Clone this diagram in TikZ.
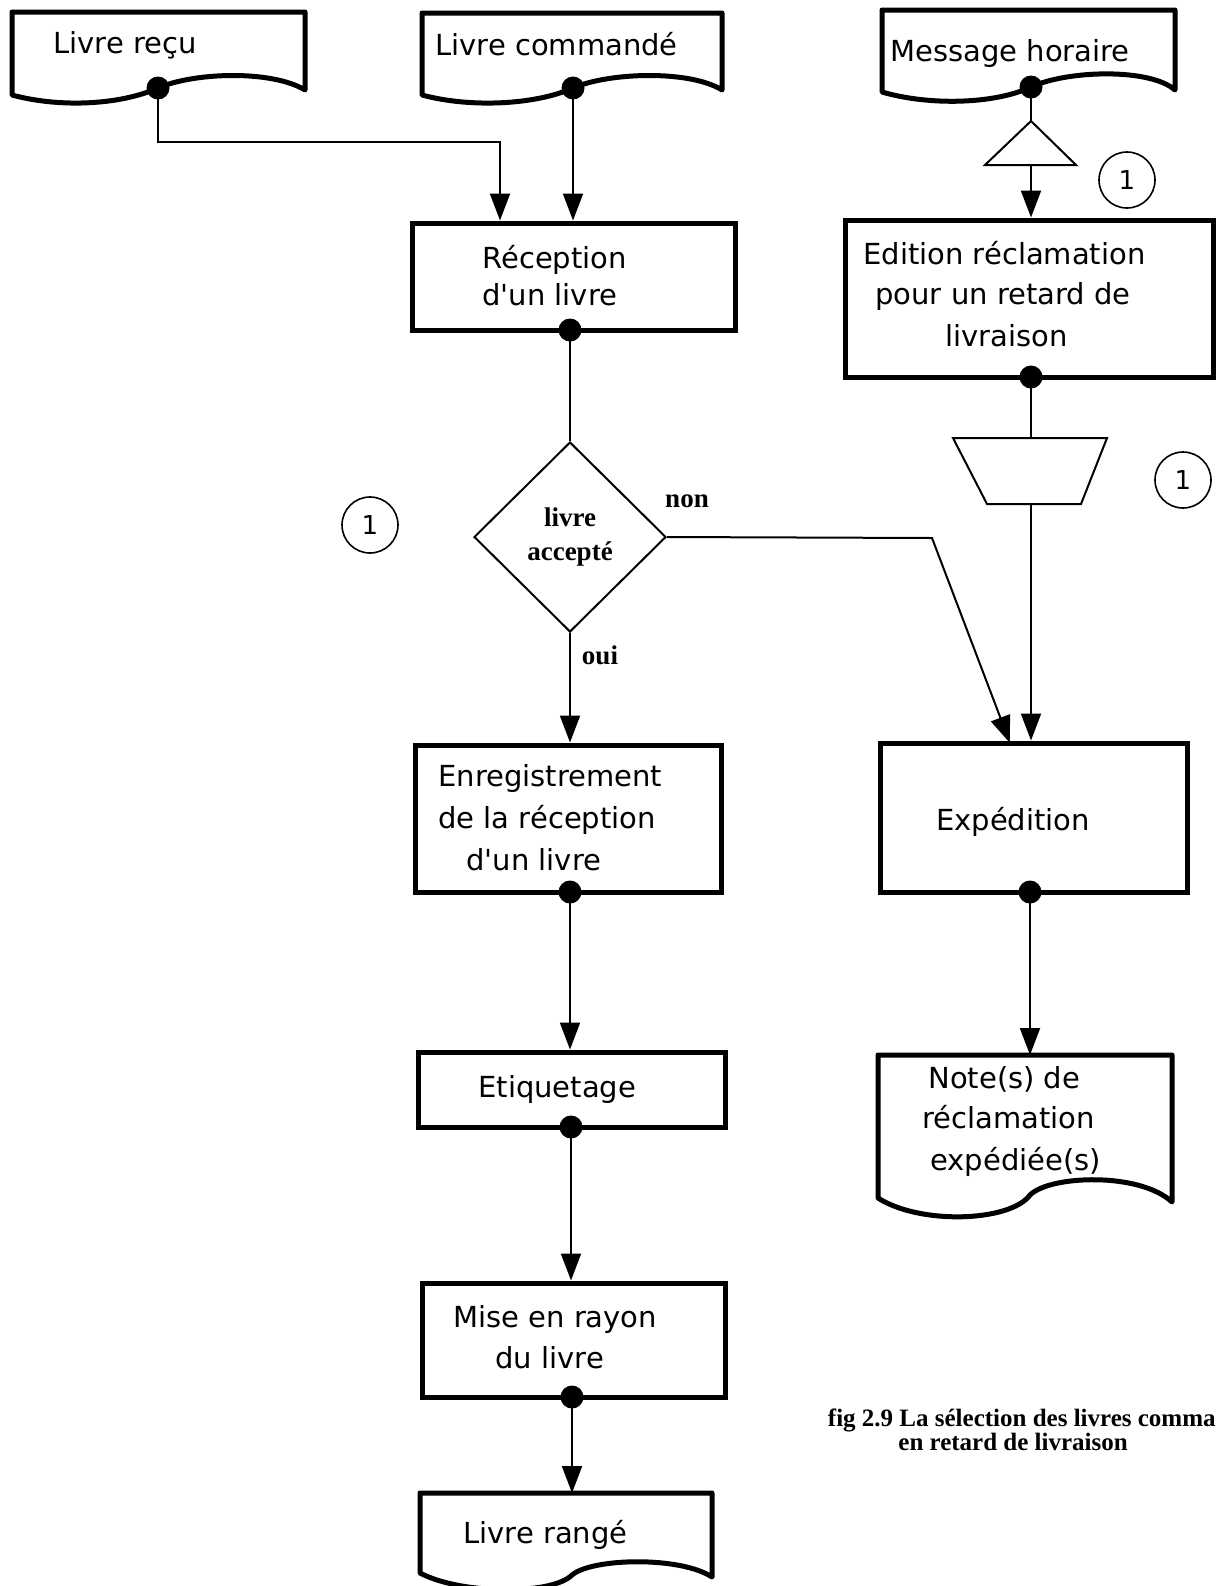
\documentclass[tikz,border=0pt]{standalone}
\usepackage{fontspec}
\setmainfont{DejaVu Sans}
\newfontfamily\capfont{Liberation Serif}
\usetikzlibrary{shapes.geometric,arrows.meta}
\newcommand{\apos}{\textquotesingle}
\begin{document}
\begin{tikzpicture}[x=0.5pt,y=-0.5pt,
  procbox/.style={draw, line width=2.5pt, inner sep=0pt},
  docline/.style={line width=2.5pt, line join=round},
  conn/.style={line width=1pt},
  arr/.style={conn, -{Triangle[length=13.5pt,width=10pt]}},
  blob/.style={circle, fill=black, inner sep=0pt, minimum size=11.5pt},
  lbl/.style={font=\fontsize{14.5}{20.5}\selectfont, inner sep=0pt},
  numcirc/.style={circle, draw, line width=0.8pt, minimum size=28pt, inner sep=0pt, font=\fontsize{13}{15}\selectfont},
  dlabel/.style={font=\capfont\bfseries\fontsize{13.5}{17}\selectfont, inner sep=0pt},
  captext/.style={font=\capfont\bfseries\fontsize{12.5}{12}\selectfont, inner sep=0pt}
]
\fill[white] (0,0) rectangle (1217,1586);
\useasboundingbox (0,0) rectangle (1217,1586);

% ---- documents (top row)
\draw[docline] (12,12) -- (305,12) -- (305,90) .. controls (272,70) and (195,72) .. (158,88)
   .. controls (120,105) and (60,108) .. (12,95) -- cycle;
\coordinate (d1dot) at (158,88);
\node[lbl, anchor=base west] (d1t) at (53,53) {Livre reçu};

\draw[docline] (422,13) -- (722,13) -- (722,90) .. controls (690,70) and (610,72) .. (573,88)
   .. controls (535,105) and (470,108) .. (422,95) -- cycle;
\coordinate (d2dot) at (573,88);
\node[lbl, anchor=base west] (d2t) at (435,55) {Livre commandé};

\draw[docline] (882,10) -- (1175,10) -- (1175,90) .. controls (1150,68) and (1068,70) .. (1031,87)
   .. controls (995,104) and (930,106) .. (882,92) -- cycle;
\coordinate (d3dot) at (1031,87);
\node[lbl, anchor=base west] (d3t) at (890,61) {Message horaire};

% ---- process boxes
\node[procbox, minimum width=161.5pt, minimum height=53.5pt] (R) at (573.5,276.5) {};
\node[lbl, anchor=base west] (Rt1) at (482,268) {Réception};
\node[lbl, anchor=base west] (Rt2) at (482,305) {d\apos un livre};

\node[procbox, minimum width=184pt, minimum height=78.5pt] (E) at (1029,298.5) {};
\node[lbl, anchor=base west] (Et1) at (863,264) {Edition réclamation};
\node[lbl, anchor=base west] (Et2) at (875,304) {pour un retard de};
\node[lbl, anchor=base west] (Et3) at (945,346) {livraison};

\node[procbox, minimum width=153pt, minimum height=73.5pt] (EN) at (568,818.5) {};
\node[lbl, anchor=base west] (ENt1) at (438,786) {Enregistrement};
\node[lbl, anchor=base west] (ENt2) at (438,828) {de la réception};
\node[lbl, anchor=base west] (ENt3) at (466,870) {d\apos un livre};

\node[procbox, minimum width=153.5pt, minimum height=74.5pt] (X) at (1033.5,817.5) {};
\node[lbl, anchor=base] (Xt) at (1013,830) {Expédition};

\node[procbox, minimum width=153.5pt, minimum height=37.5pt] (ET) at (571.5,1089.5) {};
\node[lbl, anchor=base west] (ETt) at (478,1097) {Etiquetage};

\node[procbox, minimum width=151.5pt, minimum height=57pt] (MR) at (573.5,1340) {};
\node[lbl, anchor=base west] (MRt1) at (453,1327) {Mise en rayon};
\node[lbl, anchor=base west] (MRt2) at (495,1368) {du livre};

% ---- output documents
\draw[docline] (878,1055) -- (1172,1055) -- (1172,1202) .. controls (1140,1172) and (1050,1175) .. (1030,1195)
   .. controls (1010,1222) and (920,1225) .. (878,1198) -- cycle;
\coordinate (Ntop) at (1030,1055);
\node[lbl, anchor=base west] (Nt1) at (928,1088) {Note(s) de};
\node[lbl, anchor=base west] (Nt2) at (922,1128) {réclamation};
\node[lbl, anchor=base west] (Nt3) at (930,1170) {expédiée(s)};

\draw[docline] (420,1493) -- (712,1493) -- (712,1577) .. controls (680,1556) and (592,1558) .. (572,1575)
   .. controls (552,1595) and (462,1595) .. (420,1573) -- cycle;
\coordinate (LRtop) at (572,1493);
\node[lbl, anchor=base west] (LRt) at (463,1543) {Livre rangé};

% ---- triangle and trapezoid
\draw[conn] (1031,121) -- (1076,165) -- (985,165) -- cycle;
\coordinate (tritop) at (1031,121);
\coordinate (tribot) at (1031,165);
\draw[conn] (953,438) -- (1107,438) -- (1081,504) -- (987,504) -- cycle;
\coordinate (traptop) at (1031,438);
\coordinate (trapbot) at (1031,504);

% ---- decision
\node[diamond, draw, conn, minimum width=96pt, minimum height=95pt, inner sep=0pt,
      dlabel, align=center] (dia) at (570,537) {livre\\accepté};
\node[dlabel] (non) at (687,501) {non};
\node[dlabel] (oui) at (600,655) {oui};

% ---- numbered circles
\node[numcirc] (n1) at (1127,180) {1};
\node[numcirc] (n2) at (1183,480) {1};
\node[numcirc] (n3) at (370,525) {1};

% ---- dot coordinates
\coordinate (rdot) at (570,330);
\coordinate (edot) at (1031,377);
\coordinate (endot) at (570,892);
\coordinate (xdot) at (1030,892);
\coordinate (etdot) at (571,1127);
\coordinate (mrdot) at (572,1397);
\coordinate (k1) at (500,142);
\coordinate (k2) at (932,538);
\coordinate (xin1) at (1010,743);

% ---- connectors
\draw[arr] (d1dot) |- (k1) -- (k1 |- R.north);
\draw[arr] (d2dot) -- (d2dot |- R.north);
\draw[conn] (rdot) -- (dia.north);
\draw[arr] (dia.south) -- (dia.south |- EN.north);
\draw[arr] (dia.east) -- (k2) -- (xin1);
\draw[conn] (d3dot) -- (tritop);
\draw[arr] (tribot) -- (tribot |- E.north);
\draw[conn] (edot) -- (traptop);
\draw[arr] (trapbot) -- (trapbot |- X.north);
\draw[arr] (xdot) -- (Ntop);
\draw[arr] (endot) -- (endot |- ET.north);
\draw[arr] (etdot) -- (etdot |- MR.north);
\draw[arr] (mrdot) -- (LRtop);

% ---- dots
\foreach \c in {d1dot,d2dot,d3dot,rdot,edot,endot,xdot,etdot,mrdot}
  \node[blob] at (\c) {};

% ---- caption
\node[captext, anchor=base east] (cap1) at (1216,1426) {fig 2.9 La sélection des livres comma};
\node[captext, anchor=base west] (cap2) at (898,1450) {en retard de livraison};
\end{tikzpicture}
\end{document}
